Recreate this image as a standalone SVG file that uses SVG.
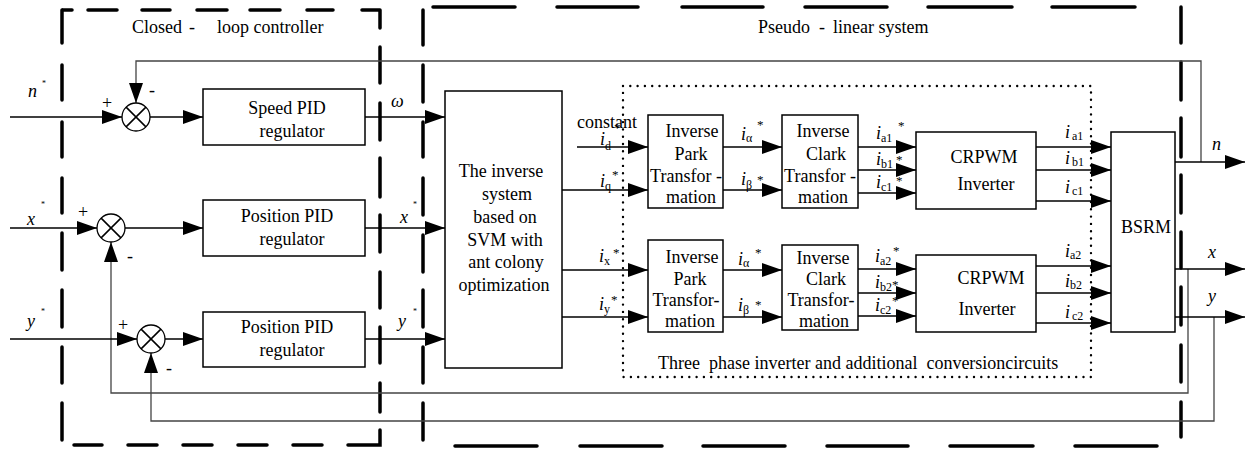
<svg xmlns="http://www.w3.org/2000/svg" width="1252" height="450" viewBox="0 0 1252 450">
<defs>
<marker id="ah" markerUnits="userSpaceOnUse" markerWidth="20" markerHeight="14" refX="20" refY="7" orient="auto">
<path d="M0,0 L20,7 L0,14 Z" fill="#000"/>
</marker>
<style>
text{font-family:"Liberation Serif","Times New Roman",Times,Tinos,"Noto Serif","DejaVu Serif",FreeSerif,serif;fill:#000;font-size:18px}
.c{text-anchor:middle}
.it{font-style:italic}
.sub{font-size:12px;font-style:normal}
.st{font-size:13px;font-style:normal}
.ss{font-size:8px;font-style:normal}
.box{fill:#fff;stroke:#000;stroke-width:1.5}
.w{fill:none;stroke:#000;stroke-width:1.5}
.fb{fill:none;stroke:#444;stroke-width:1.3}
.dash{fill:none;stroke:#000;stroke-width:3.5;stroke-linecap:round}
.dot{fill:none;stroke:#000;stroke-width:2.4;stroke-linecap:round;stroke-dasharray:0 7.3}
.sum{fill:#fff;stroke:#000;stroke-width:1.3}
</style>
</defs>
<rect width="1252" height="450" fill="#fff"/>

<!-- dashed region: closed-loop controller -->
<g id="region-controller">
<path class="dash" d="M63,10H72 M88,10H117 M142,10H170 M197,10H227 M250,10H280 M307,10H333 M362,10H380
M62,10V43 M62,65V100 M62,122V157 M62,178V213 M62,233V270 M62,290V327 M62,347V383 M62,403V440
M74,445H102 M128,445H157 M183,445H212 M238,445H267 M293,445H322 M348,445H380V430
M380,10V28 M380,47V83 M380,103V140 M380,158V197 M380,215V252 M380,272V308 M380,327V363 M380,383V412"/>
<text x="132" y="33">Closed</text><text x="189" y="33">-</text><text x="217" y="33">loop controller</text>
</g>

<!-- dashed region: pseudo-linear system -->
<g id="region-plant">
<path class="dash" d="M433,7H515 M557,7H638 M682,7H763 M805,7H887 M928,7H1012 M1052,7H1135
M423,10V45 M423,65V102 M423,122V157 M423,178V215 M423,235V272 M423,290V327 M423,347V383 M423,403V440
M455,446H537 M580,446H662 M703,446H785 M827,446H908 M950,446H1033 M1075,446H1157
M1181,7V43 M1181,62V100 M1181,118V157 M1181,175V213 M1181,232V268 M1181,287V325 M1181,345V382 M1181,402V437"/>
<text x="758" y="33">Pseudo</text><text x="819" y="33">-</text><text x="833" y="33">linear system</text>
</g>

<!-- dotted region: inverter and conversion circuits -->
<g id="region-inverter">
<rect class="dot" x="623" y="86" width="468" height="291"/>
<text x="658" y="369" xml:space="preserve">Three  phase inverter and additional  conversioncircuits</text>
</g>

<g id="connectors">
<!-- feedback paths -->
<path class="fb" d="M1201,162V61H136V103" marker-end="url(#ah)"/>
<path class="fb" d="M1188,269V393H111V242" marker-end="url(#ah)"/>
<path class="fb" d="M1214,317V421H151V353" marker-end="url(#ah)"/>
<!-- reference inputs -->
<path class="w" d="M10,117H122" marker-end="url(#ah)"/>
<path class="w" d="M10,228H97" marker-end="url(#ah)"/>
<path class="w" d="M10,339H137" marker-end="url(#ah)"/>
<!-- junctions to regulators -->
<path class="w" d="M150,117H203" marker-end="url(#ah)"/>
<path class="w" d="M125,228H203" marker-end="url(#ah)"/>
<path class="w" d="M165,339H203" marker-end="url(#ah)"/>
<!-- regulators to inverse system -->
<path class="w" d="M365,117H445" marker-end="url(#ah)"/>
<path class="w" d="M365,228H445" marker-end="url(#ah)"/>
<path class="w" d="M365,339H445" marker-end="url(#ah)"/>
<!-- inverse system to Park -->
<path class="w" d="M577,147H648" marker-end="url(#ah)"/>
<path class="w" d="M562,190H648" marker-end="url(#ah)"/>
<path class="w" d="M562,270H648" marker-end="url(#ah)"/>
<path class="w" d="M562,317H648" marker-end="url(#ah)"/>
<!-- Park to Clark -->
<path class="w" d="M723,147H782" marker-end="url(#ah)"/>
<path class="w" d="M723,190H782" marker-end="url(#ah)"/>
<path class="w" d="M723,270H782" marker-end="url(#ah)"/>
<path class="w" d="M723,317H782" marker-end="url(#ah)"/>
<!-- Clark to CRPWM -->
<path class="w" d="M858,147H916" marker-end="url(#ah)"/>
<path class="w" d="M858,170H916" marker-end="url(#ah)"/>
<path class="w" d="M858,193H916" marker-end="url(#ah)"/>
<path class="w" d="M858,269H916" marker-end="url(#ah)"/>
<path class="w" d="M858,293H916" marker-end="url(#ah)"/>
<path class="w" d="M858,316H916" marker-end="url(#ah)"/>
<!-- CRPWM to BSRM -->
<path class="w" d="M1036,147H1111" marker-end="url(#ah)"/>
<path class="w" d="M1036,170H1111" marker-end="url(#ah)"/>
<path class="w" d="M1036,201H1111" marker-end="url(#ah)"/>
<path class="w" d="M1036,266H1111" marker-end="url(#ah)"/>
<path class="w" d="M1036,293H1111" marker-end="url(#ah)"/>
<path class="w" d="M1036,323H1111" marker-end="url(#ah)"/>
<!-- BSRM outputs -->
<path class="w" d="M1175,162H1245" marker-end="url(#ah)"/>
<path class="w" d="M1175,269H1245" marker-end="url(#ah)"/>
<path class="w" d="M1175,317H1245" marker-end="url(#ah)"/>

<!-- signal labels -->
<text class="it" x="28" y="97">n<tspan class="ss" x="42" y="86">*</tspan></text>
<text class="it" x="27" y="225">x<tspan class="ss" x="41" y="207">*</tspan></text>
<text class="it" x="27" y="327">y<tspan class="ss" x="41" y="314">*</tspan></text>
<text x="102" y="109">+</text><text x="149" y="96">-</text>
<text x="78" y="218">+</text><text x="127" y="262">-</text>
<text x="118" y="331">+</text><text x="166" y="374">-</text>
<text class="it" x="391" y="107">ω</text>
<text class="it" x="400" y="223">x<tspan class="ss" x="413" y="207">*</tspan></text>
<text class="it" x="398" y="327">y<tspan class="ss" x="413" y="314">*</tspan></text>

<text x="577" y="128">constant</text>
<text class="it" x="600" y="145">i<tspan class="sub" dy="5">d</tspan><tspan class="st" x="614" y="132">*</tspan></text>
<text class="it" x="600" y="187">i<tspan class="sub" dy="3">q</tspan><tspan class="st" x="612" y="179">*</tspan></text>
<text class="it" x="599" y="262">i<tspan class="sub" dy="3">x</tspan><tspan class="st" x="613" y="257">*</tspan></text>
<text class="it" x="599" y="310">i<tspan class="sub" dy="3">y</tspan><tspan class="st" x="611" y="304">*</tspan></text>

<text class="it" x="741" y="140">i<tspan class="sub" dy="2">α</tspan><tspan class="st" x="757" y="129">*</tspan></text>
<text class="it" x="741" y="185">i<tspan class="sub" dy="4">β</tspan><tspan class="st" x="757" y="184">*</tspan></text>
<text class="it" x="738" y="265">i<tspan class="sub" dy="2">α</tspan><tspan class="st" x="755" y="257">*</tspan></text>
<text class="it" x="738" y="311">i<tspan class="sub" dy="3">β</tspan><tspan class="st" x="755" y="309">*</tspan></text>

<text class="it" x="876" y="139">i<tspan class="sub" dy="3">a1</tspan><tspan class="st" x="898" y="130">*</tspan></text>
<text class="it" x="876" y="165">i<tspan class="sub" dy="3">b1</tspan><tspan class="st" x="896" y="164">*</tspan></text>
<text class="it" x="876" y="188">i<tspan class="sub" dy="3">c1</tspan><tspan class="st" x="896" y="185">*</tspan></text>
<text class="it" x="875" y="262">i<tspan class="sub" dy="3">a2</tspan><tspan class="st" x="893" y="255">*</tspan></text>
<text class="it" x="875" y="288">i<tspan class="sub" dy="3">b2</tspan><tspan class="st" x="892" y="289">*</tspan></text>
<text class="it" x="875" y="311">i<tspan class="sub" dy="3">c2</tspan><tspan class="st" x="892" y="305">*</tspan></text>

<text class="it" x="1065" y="138">i<tspan class="sub" dy="2" dx="2">a1</tspan></text>
<text class="it" x="1065" y="164">i<tspan class="sub" dy="2" dx="2">b1</tspan></text>
<text class="it" x="1065" y="193">i<tspan class="sub" dy="2" dx="2">c1</tspan></text>
<text class="it" x="1065" y="257">i<tspan class="sub" dy="2">a2</tspan></text>
<text class="it" x="1065" y="287">i<tspan class="sub" dy="2">b2</tspan></text>
<text class="it" x="1065" y="318">i<tspan class="sub" dy="2" dx="2">c2</tspan></text>

<text class="it" x="1212" y="150">n</text>
<text class="it" x="1208" y="258">x</text>
<text class="it" x="1208" y="302">y</text>
</g>

<!-- summing junctions -->
<g id="sum-speed">
<circle class="sum" cx="136" cy="117" r="14"/>
<path class="w" stroke-width="1.2" d="M126.1,107.1L145.9,126.9M145.9,107.1L126.1,126.9"/>
</g>
<g id="sum-x">
<circle class="sum" cx="111" cy="228" r="14"/>
<path class="w" stroke-width="1.2" d="M101.1,218.1L120.9,237.9M120.9,218.1L101.1,237.9"/>
</g>
<g id="sum-y">
<circle class="sum" cx="151" cy="339" r="14"/>
<path class="w" stroke-width="1.2" d="M141.1,329.1L160.9,348.9M160.9,329.1L141.1,348.9"/>
</g>

<!-- regulators -->
<g id="speed-pid">
<rect class="box" x="203" y="89" width="162" height="56"/>
<text class="c" x="287" y="114">Speed PID</text>
<text class="c" x="292" y="137">regulator</text>
</g>
<g id="position-pid-x">
<rect class="box" x="203" y="200" width="162" height="56"/>
<text class="c" x="287" y="222">Position PID</text>
<text class="c" x="292" y="245">regulator</text>
</g>
<g id="position-pid-y">
<rect class="box" x="203" y="312" width="162" height="55"/>
<text class="c" x="287" y="333">Position PID</text>
<text class="c" x="292" y="356">regulator</text>
</g>

<!-- inverse system -->
<g id="inverse-system">
<rect class="box" x="445" y="91" width="117" height="277"/>
<text class="c" x="501" y="177">The inverse</text>
<text class="c" x="507" y="200">system</text>
<text class="c" x="505" y="223">based on</text>
<text class="c" x="505" y="246">SVM with</text>
<text class="c" x="506" y="268">ant colony</text>
<text class="c" x="504" y="291">optimization</text>
</g>

<!-- coordinate transformations -->
<g id="park-1">
<rect class="box" x="648" y="115" width="75" height="93"/>
<text class="c" x="692" y="137">Inverse</text>
<text class="c" x="691" y="160">Park</text>
<text class="c" x="686" y="182">Transfor -</text>
<text class="c" x="691" y="203">mation</text>
</g>
<g id="clark-1">
<rect class="box" x="782" y="115" width="76" height="93"/>
<text class="c" x="823" y="137">Inverse</text>
<text class="c" x="826" y="160">Clark</text>
<text class="c" x="820" y="182">Transfor -</text>
<text class="c" x="823" y="203">mation</text>
</g>
<g id="park-2">
<rect class="box" x="648" y="240" width="75" height="92"/>
<text class="c" x="692" y="263">Inverse</text>
<text class="c" x="690" y="285">Park</text>
<text class="c" x="686" y="306">Transfor-</text>
<text class="c" x="690" y="327">mation</text>
</g>
<g id="clark-2">
<rect class="box" x="782" y="245" width="76" height="85"/>
<text class="c" x="823" y="264">Inverse</text>
<text class="c" x="826" y="285">Clark</text>
<text class="c" x="821" y="306">Transfor-</text>
<text class="c" x="824" y="327">mation</text>
</g>

<!-- inverters -->
<g id="crpwm-1">
<rect class="box" x="916" y="132" width="120" height="77"/>
<text class="c" x="984" y="163">CRPWM</text>
<text class="c" x="986" y="190">Inverter</text>
</g>
<g id="crpwm-2">
<rect class="box" x="916" y="255" width="120" height="77"/>
<text class="c" x="991" y="284">CRPWM</text>
<text class="c" x="987" y="315">Inverter</text>
</g>

<!-- motor -->
<g id="bsrm">
<rect class="box" x="1111" y="132" width="64" height="200"/>
<text class="c" x="1146" y="233">BSRM</text>
</g>
</svg>
